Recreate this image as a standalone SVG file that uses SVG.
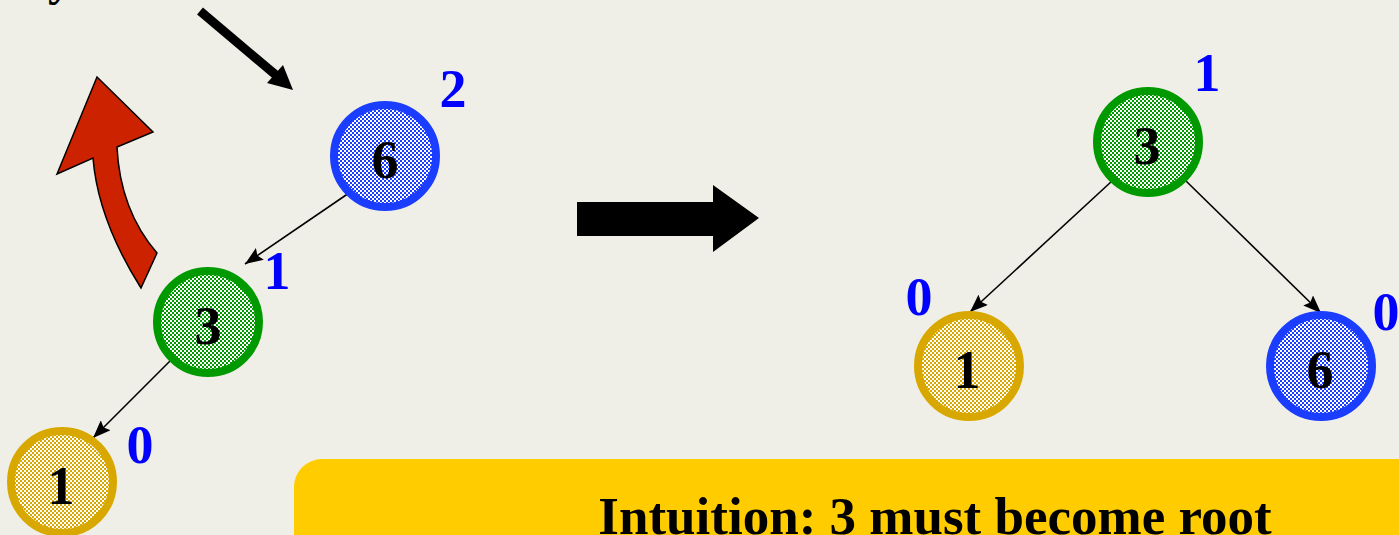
<svg xmlns="http://www.w3.org/2000/svg" width="1399" height="535" viewBox="0 0 1399 535">
  <defs>
    <pattern id="chkBlue" width="4" height="4" patternUnits="userSpaceOnUse">
      <rect width="4" height="4" fill="#ffffff"/>
      <rect width="2" height="2" fill="#1a3dff"/>
      <rect x="2" y="2" width="2" height="2" fill="#1a3dff"/>
    </pattern>
    <pattern id="chkGreen" width="4" height="4" patternUnits="userSpaceOnUse">
      <rect width="4" height="4" fill="#ffffff"/>
      <rect width="2" height="2" fill="#009a00"/>
      <rect x="2" y="2" width="2" height="2" fill="#009a00"/>
    </pattern>
    <pattern id="chkGold" width="4" height="4" patternUnits="userSpaceOnUse">
      <rect width="4" height="4" fill="#ffffff"/>
      <rect width="2" height="2" fill="#d8a800"/>
      <rect x="2" y="2" width="2" height="2" fill="#d8a800"/>
    </pattern>
    <marker id="ah" viewBox="0 0 18 14" refX="18" refY="7" markerWidth="18" markerHeight="14" markerUnits="userSpaceOnUse" orient="auto">
      <path d="M0,0 L18,7 L0,14 L3,7 z" fill="#000"/>
    </marker>
  </defs>
  <style>
    .ring { stroke-width: 8; }
    .blue { fill: url(#chkBlue); stroke: #1a3dff; }
    .green { fill: url(#chkGreen); stroke: #009a00; }
    .gold { fill: url(#chkGold); stroke: #d8a800; }
    .num { font-family: "Liberation Serif", "Times New Roman", serif; font-weight: bold; font-size: 54px; fill: #000; text-anchor: middle; }
    .bal { font-family: "Liberation Serif", "Times New Roman", serif; font-weight: bold; font-size: 54px; fill: #0000ff; text-anchor: middle; }
    .edge { stroke: #000; stroke-width: 1.6; fill: none; marker-end: url(#ah); }
  </style>
  <rect width="1399" height="535" fill="#f0efe7"/>

  <text x="48" y="-5" font-family="Liberation Serif, serif" font-weight="bold" font-size="48" fill="#000">y</text>

  <!-- pointer arrow -->
  <g id="pointer-arrow">
    <line x1="200" y1="11" x2="277" y2="76" stroke="#000" stroke-width="9"/>
    <polygon points="293,90 267,83 283,65" fill="#000"/>
  </g>

  <!-- red rotation arrow -->
  <g id="rotation-arrow">
    <path d="M97,77 L153,132 L117,147 Q120,210 157,253 L141,288 Q98,220 93,158 L57,174 Z" fill="#cc2200" stroke="#000" stroke-width="1.5" stroke-linejoin="miter"/>
  </g>

  <!-- big transform arrow -->
  <g id="transform-arrow">
    <polygon points="577,202 713,202 713,185 759,218 713,252 713,236 577,236" fill="#000"/>
  </g>

  <g id="connectors">
    <line class="edge" x1="349" y1="193" x2="245" y2="264"/>
    <line class="edge" x1="172" y1="359" x2="93" y2="438"/>
    <line class="edge" x1="1112" y1="181" x2="970" y2="312"/>
    <line class="edge" x1="1186" y1="181" x2="1321" y2="313"/>
  </g>

  <!-- left tree -->
  <g id="left-node-6">
    <circle class="ring blue" cx="385" cy="156" r="51"/>
    <text class="num" x="385" y="178">6</text>
    <text class="bal" x="453" y="107">2</text>
  </g>
  <g id="left-node-3">
    <circle class="ring green" cx="208" cy="322" r="51"/>
    <text class="num" x="208" y="344">3</text>
    <text class="bal" x="277" y="289">1</text>
  </g>
  <g id="left-node-1">
    <circle class="ring gold" cx="62" cy="482" r="51"/>
    <text class="num" x="61" y="504">1</text>
    <text class="bal" x="140" y="463">0</text>
  </g>

  <!-- right tree -->
  <g id="right-node-3">
    <circle class="ring green" cx="1148" cy="142" r="51"/>
    <text class="num" x="1147" y="164">3</text>
    <text class="bal" x="1207" y="91">1</text>
  </g>
  <g id="right-node-1">
    <circle class="ring gold" cx="969" cy="366" r="51"/>
    <text class="num" x="967" y="388">1</text>
    <text class="bal" x="919" y="315">0</text>
  </g>
  <g id="right-node-6">
    <circle class="ring blue" cx="1321" cy="366" r="51"/>
    <text class="num" x="1320" y="388">6</text>
    <text class="bal" x="1386" y="330">0</text>
  </g>

  <!-- intuition box -->
  <g id="intuition-box">
    <rect x="294" y="459" width="1200" height="200" rx="28" ry="28" fill="#ffcc00"/>
    <text x="935" y="534" font-family="Liberation Serif, 'Times New Roman', serif" font-weight="bold" font-size="53" fill="#000" text-anchor="middle">Intuition: 3 must become root</text>
  </g>
</svg>
